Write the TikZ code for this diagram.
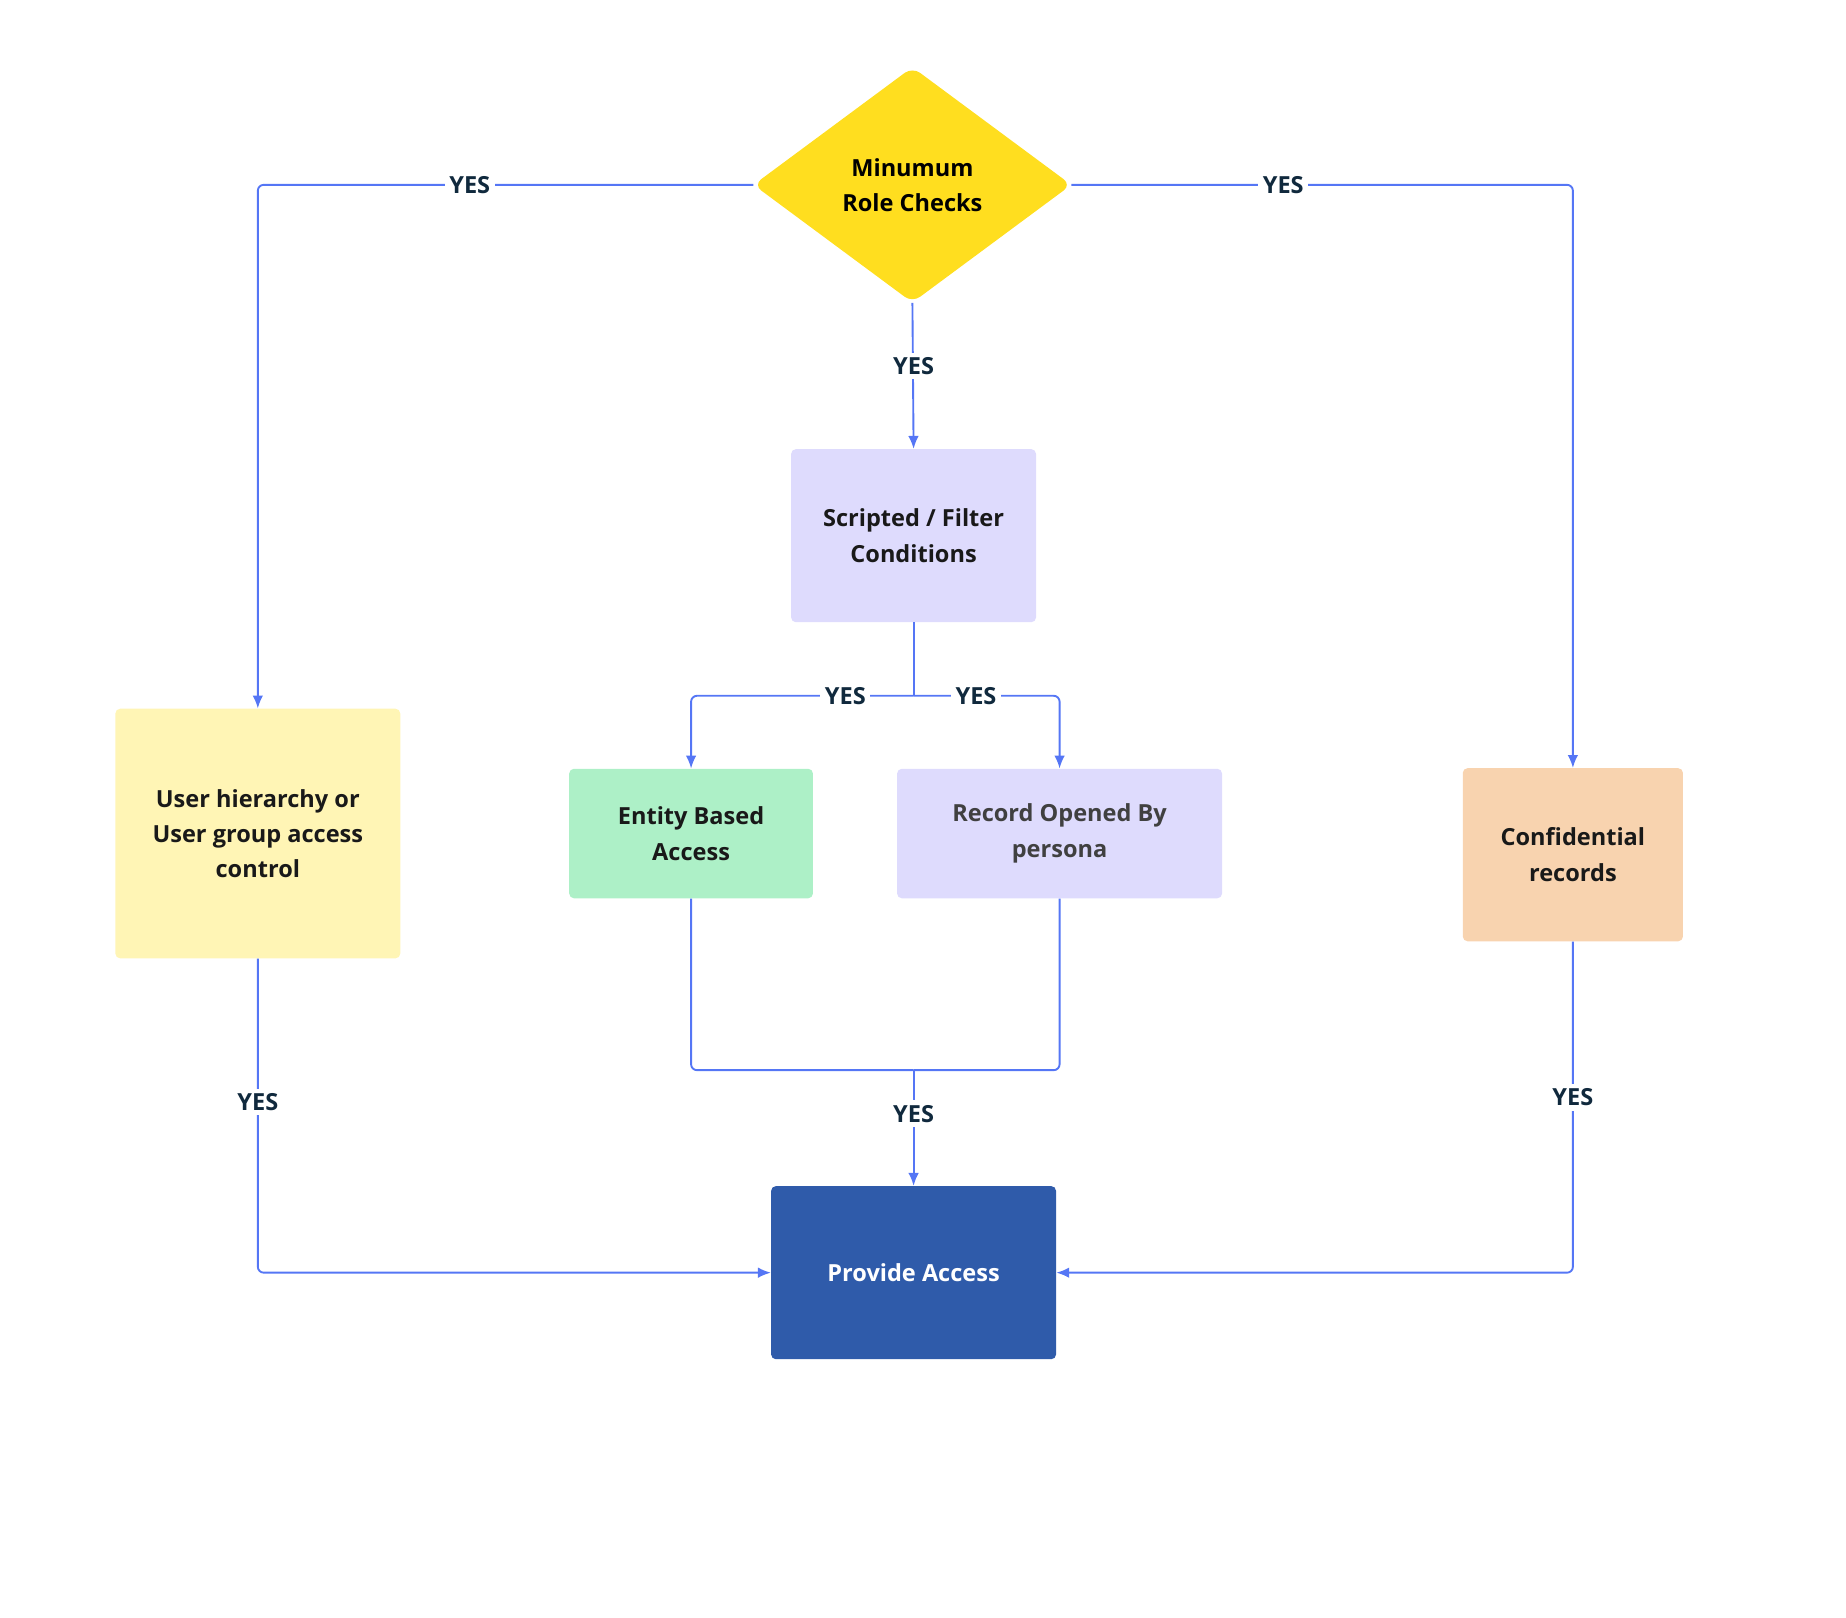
\documentclass[tikz,border=0pt]{standalone}
\usepackage{fontspec}
\setmainfont{Open Sans}
\usetikzlibrary{shapes.geometric,arrows.meta}
\definecolor{linkblue}{HTML}{5576F5}
\definecolor{labink}{HTML}{10293D}
\definecolor{roleyellow}{HTML}{FFDE1F}
\definecolor{lilac}{HTML}{DEDBFD}
\definecolor{mint}{HTML}{ADF0C7}
\definecolor{cream}{HTML}{FFF5B5}
\definecolor{peach}{HTML}{F8D3AF}
\definecolor{deepblue}{HTML}{2F5BAA}
\begin{document}
\begin{tikzpicture}
   [x=1pt,y=-1pt,
    every node/.style={font=\fontsize{20}{30}\selectfont\bfseries,align=center},
    box/.style={rectangle,rounded corners=4pt,inner sep=0pt,text=black!90},
    link/.style={draw=linkblue,line width=1.6pt,rounded corners=5pt,-{Latex[length=11pt,width=9pt]}},
    plain/.style={draw=linkblue,line width=1.6pt,rounded corners=5pt},
    yes/.style={fill=white,text=labink,inner sep=4pt}]

  \useasboundingbox (0,0) rectangle (1568,1374);

  \node[diamond,fill=roleyellow,rounded corners=8pt,minimum width=270pt,minimum height=200pt,aspect=1.35,inner sep=0pt] (role) at (775,157) {};
  \node (roletext) at (775,157) {Minumum\\Role Checks};
  \node[box,fill=lilac,minimum width=208pt,minimum height=147pt] (script) at (776,455) {Scripted / Filter\\Conditions};
  \node[box,fill=cream,minimum width=242pt,minimum height=212pt] (user) at (219,708) {User hierarchy or\\User group access\\control};
  \node[box,fill=mint,minimum width=207pt,minimum height=110pt] (entity) at (587,708) {Entity Based\\Access};
  \node[box,fill=lilac,text=black!75,minimum width=276pt,minimum height=110pt] (record) at (900,708) {Record Opened By\\persona};
  \node[box,fill=peach,minimum width=187pt,minimum height=147pt] (conf) at (1336,726) {Confidential\\records};
  \node[box,fill=deepblue,text=white,minimum width=242pt,minimum height=147pt] (provide) at (776,1081) {Provide Access};

  \coordinate (split) at (776,591);
  \coordinate (join) at (776,909);

  \draw[link] (640,157) -- (219,157) -- (user.north);
  \draw[link] (910,157) -- (1336,157) -- (conf.north);
  \draw[link] (role.south) -- (script.north);
  \draw[plain] (script.south) -- (split);
  \draw[link] (split) -| (entity.north);
  \draw[link] (split) -| (record.north);
  \draw[plain] (entity.south) |- (join);
  \draw[plain] (record.south) |- (join);
  \draw[link] (join) -- (provide.north);
  \draw[link] (user.south) |- (provide.west);
  \draw[link] (conf.south) |- (provide.east);

  \node[yes] (y1) at (399,157) {YES};
  \node[yes] (y2) at (1090,157) {YES};
  \node[yes] (y3) at (776,311) {YES};
  \node[yes] (y4) at (718,591) {YES};
  \node[yes] (y5) at (829,591) {YES};
  \node[yes] (y6) at (776,946) {YES};
  \node[yes] (y7) at (219,936) {YES};
  \node[yes] (y8) at (1336,932) {YES};
\end{tikzpicture}
\end{document}
